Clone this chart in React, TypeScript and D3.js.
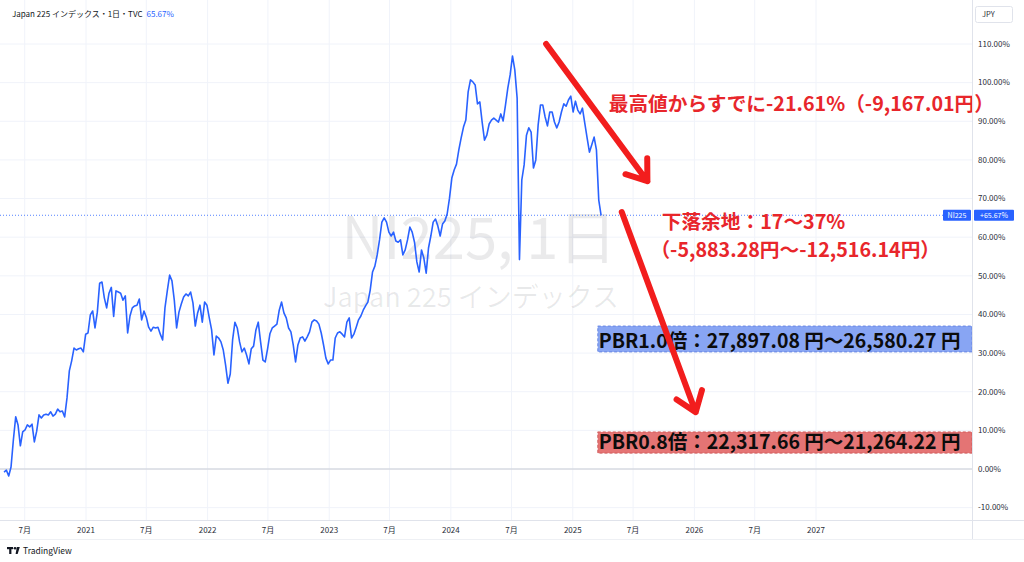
import * as d3 from "d3";

// weekly closes, % change from first bar
const startDate = "2020-04-30";
const weeklyPct = [
  -0.8, -0.3, -1.8, 0.5, 7.5, 13.5, 11.4, 6.0, 9.6, 10.1,
  11.4, 10.9, 11.6, 7.0, 9.8, 14.0, 13.2, 14.0, 14.2, 14.0,
  14.8, 13.7, 14.2, 15.5, 14.8, 15.0, 13.5, 18.4, 25.4, 28.0,
  31.3, 30.8, 31.1, 31.3, 30.3, 34.9, 35.2, 39.9, 40.9, 36.5,
  40.6, 48.1, 48.4, 44.3, 41.7, 45.5, 47.0, 39.5, 46.1, 45.8,
  45.5, 43.7, 44.8, 35.2, 39.6, 41.7, 42.2, 42.4, 44.0, 38.6,
  40.9, 39.3, 36.7, 35.7, 36.7, 36.5, 36.7, 34.9, 33.4, 41.7,
  46.1, 50.2, 48.7, 43.7, 36.5, 40.6, 42.7, 44.5, 45.3, 44.8,
  45.8, 43.0, 37.0, 40.4, 42.4, 38.0, 43.2, 42.4, 39.1, 36.0,
  29.5, 34.4, 33.9, 32.9, 30.8, 26.9, 22.2, 24.6, 33.4, 38.0,
  36.5, 32.9, 30.3, 31.3, 29.5, 27.2, 31.1, 31.8, 36.0, 38.0,
  32.9, 28.2, 27.7, 31.1, 35.0, 36.5, 37.0, 37.5, 41.1, 43.2,
  40.4, 39.1, 36.5, 35.5, 32.1, 27.7, 32.1, 33.9, 34.2, 33.1,
  34.2, 35.5, 38.0, 38.6, 38.3, 37.5, 35.2, 32.1, 28.7, 27.2,
  28.2, 28.2, 33.9, 35.2, 35.5, 34.9, 34.2, 38.0, 39.1, 33.9,
  34.9, 36.7, 38.6, 39.6, 41.1, 42.2, 43.2, 46.3, 51.0, 52.5,
  55.4, 59.3, 63.9, 65.0, 63.9, 61.3, 60.3, 61.3, 59.0, 58.7,
  59.3, 55.4, 56.7, 59.3, 62.6, 61.3, 58.7, 53.6, 51.0, 56.7,
  54.6, 50.7, 57.2, 60.3, 63.9, 64.7, 62.9, 60.3, 63.4, 64.2,
  66.0, 70.1, 75.3, 77.4, 78.9, 82.6, 85.7, 88.5, 90.3, 97.6,
  100.7, 100.2, 99.4, 94.5, 95.0, 89.8, 85.1, 86.4, 89.3, 90.3,
  90.8, 90.3, 89.8, 91.9, 90.1, 94.2, 98.6, 102.0, 106.9, 103.3,
  96.0, 54.2, 74.8, 78.7, 86.4, 88.3, 87.2, 77.9, 80.0, 89.0,
  94.2, 94.2, 91.1, 88.8, 92.4, 92.4, 89.8, 88.3, 89.8, 92.4,
  94.5, 93.9, 95.5, 96.5, 92.4, 95.2, 92.9, 91.9, 93.4, 89.5,
  85.7, 82.0, 83.9, 85.9, 82.6, 69.6, 65.67,
];
const lastPct = 65.67;

const yTicks = [-10, 0, 10, 20, 30, 40, 50, 60, 70, 80, 90, 100, 110];
const xTicks = [
  { date: "2020-07-01", label: "7月" },
  { date: "2021-01-01", label: "2021" },
  { date: "2021-07-01", label: "7月" },
  { date: "2022-01-01", label: "2022" },
  { date: "2022-07-01", label: "7月" },
  { date: "2023-01-01", label: "2023" },
  { date: "2023-07-01", label: "7月" },
  { date: "2024-01-01", label: "2024" },
  { date: "2024-07-01", label: "7月" },
  { date: "2025-01-01", label: "2025" },
  { date: "2025-07-01", label: "7月" },
  { date: "2026-01-01", label: "2026" },
  { date: "2026-07-01", label: "7月" },
  { date: "2027-01-01", label: "2027" },
];

// annotations, in chart units (date, %)
const arrows = [
  { from: ["2024-10-13", 110], to: ["2025-08-13", 74.5] },
  { from: ["2025-05-28", 66.5], to: ["2026-01-05", 14.7] },
];
const redNotes = [
  { text: "最高値からすでに-21.61%（-9,167.01円）", date: "2025-04-19", pct: 92.7 },
  { text: "下落余地：17〜37%", date: "2025-09-25", pct: 62.1 },
  { text: "（-5,883.28円〜-12,516.14円）", date: "2025-08-22", pct: 54.9 },
];
const pbrBands = [
  { text: "PBR1.0倍：27,897.08 円〜26,580.27 円", from: "2025-03-17", lo: 30.3, hi: 37.0, fill: "#88a5f3", stroke: "#5577e0" },
  { text: "PBR0.8倍：22,317.66 円〜21,264.22 円", from: "2025-03-17", lo: 4.1, hi: 9.6, fill: "#e47474", stroke: "#c94d4d" },
];

const W = 1024;
const H = 562;
const plotRight = 972;
const axisBottom = 520;
const FONT = "'Noto Sans CJK JP', 'Noto Sans', sans-serif";
const BLUE = "#2962ff";
const RED = "#f21d1d";

const parse = d3.timeParse("%Y-%m-%d");

export default function App() {
  const x = d3
    .scaleTime()
    .domain([parse("2021-01-01")!, parse("2027-01-01")!])
    .range([86, 816]);
  const y = d3.scaleLinear().domain([0, 110]).range([469, 44]);

  const start = parse(startDate)!;
  const series = weeklyPct.map((v, i) => ({ date: d3.timeDay.offset(start, i * 7), v }));

  const line = d3
    .line<{ date: Date; v: number }>()
    .x((d) => x(d.date))
    .y((d) => y(d.v));

  const arrowPaths = arrows.map((a) => {
    const x1 = x(parse(a.from[0] as string)!);
    const y1 = y(a.from[1] as number);
    const x2 = x(parse(a.to[0] as string)!);
    const y2 = y(a.to[1] as number);
    const ang = Math.atan2(y1 - y2, x1 - x2);
    const len = 23;
    const spread = (36 * Math.PI) / 180;
    const h1 = [x2 + len * Math.cos(ang - spread), y2 + len * Math.sin(ang - spread)];
    const h2 = [x2 + len * Math.cos(ang + spread), y2 + len * Math.sin(ang + spread)];
    return `M${x1},${y1}L${x2},${y2}M${h1[0]},${h1[1]}L${x2},${y2}L${h2[0]},${h2[1]}`;
  });

  const yLast = y(lastPct);

  return (
    <svg
      width={W}
      height={H}
      style={{ position: "absolute", left: 0, top: 0, background: "#fff" }}
      fontFamily={FONT}
    >
      <rect x={0} y={0} width={W} height={H} fill="#fff" />

      {/* grid */}
      {yTicks.map((t) => (
        <line key={"gy" + t} x1={0} x2={plotRight} y1={y(t)} y2={y(t)} stroke="#f0f3fa" />
      ))}
      {xTicks.map((t) => (
        <line
          key={"gx" + t.date}
          x1={x(parse(t.date)!)}
          x2={x(parse(t.date)!)}
          y1={0}
          y2={axisBottom}
          stroke="#f0f3fa"
        />
      ))}

      {/* watermark */}
      <text x={479} y={259} textAnchor="middle" fontSize={58} fill="#131722" fillOpacity={0.09}>
        NI225, 1日
      </text>
      <text x={471} y={307} textAnchor="middle" fontSize={27} fill="#131722" fillOpacity={0.09}>
        Japan 225 インデックス
      </text>

      {/* zero line */}
      <line x1={0} x2={plotRight} y1={y(0)} y2={y(0)} stroke="#c9ccd4" />

      {/* last value line */}
      <line
        x1={0}
        x2={plotRight}
        y1={yLast}
        y2={yLast}
        stroke={BLUE}
        strokeOpacity={0.8}
        strokeWidth={1}
        strokeDasharray="1,2"
      />

      {/* price */}
      <path d={line(series) ?? ""} fill="none" stroke={BLUE} strokeWidth={1.6} strokeLinejoin="round" />

      {/* PBR bands */}
      {pbrBands.map((b) => {
        const bx = x(parse(b.from)!);
        const top = y(b.hi);
        const bot = y(b.lo);
        return (
          <g key={b.text}>
            <rect
              x={bx}
              y={top}
              width={plotRight - bx}
              height={bot - top}
              fill={b.fill}
              stroke={b.stroke}
              strokeDasharray="3,2"
              strokeWidth={0.8}
            />
            <text x={bx + 1} y={bot - 4} fontSize={19.5} fontWeight={700} fill="#0c0c0c">
              {b.text}
            </text>
          </g>
        );
      })}

      {/* arrows */}
      {arrowPaths.map((d, i) => (
        <path key={"ar" + i} d={d} fill="none" stroke={RED} strokeWidth={6} strokeLinecap="round" strokeLinejoin="round" />
      ))}

      {/* red notes */}
      {redNotes.map((n) => (
        <text key={n.text} x={x(parse(n.date)!)} y={y(n.pct)} fontSize={19.7} fontWeight={700} fill="#e8262b">
          {n.text}
        </text>
      ))}

      {/* price axis */}
      <line x1={plotRight + 0.5} x2={plotRight + 0.5} y1={0} y2={539} stroke="#e0e3eb" />
      {yTicks.map((t) => (
        <text key={"ty" + t} x={978} y={y(t)} dy="0.35em" fontSize={8} fill="#2a2e39">
          {t.toFixed(2)}%
        </text>
      ))}
      <rect x={975.5} y={6.5} width={37} height={16} fill="#fff" stroke="#e0e3eb" rx={2} />
      <text x={982} y={14.5} dy="0.35em" fontSize={7.5} fill="#2a2e39">
        JPY
      </text>

      {/* last value labels */}
      <rect x={943} y={yLast - 5.5} width={28} height={11} fill={BLUE} rx={1} />
      <text x={957} y={yLast} dy="0.35em" textAnchor="middle" fontSize={7} fill="#fff">
        NI225
      </text>
      <rect x={974} y={yLast - 5.5} width={40} height={11} fill={BLUE} rx={1} />
      <text x={994} y={yLast} dy="0.35em" textAnchor="middle" fontSize={7} fill="#fff">
        +{lastPct.toFixed(2)}%
      </text>

      {/* time axis */}
      <line x1={0} x2={W} y1={axisBottom + 0.5} y2={axisBottom + 0.5} stroke="#e0e3eb" />
      <line x1={0} x2={W} y1={539.5} y2={539.5} stroke="#eef0f4" />
      {xTicks.map((t) => (
        <text
          key={"tx" + t.date}
          x={x(parse(t.date)!)}
          y={530}
          dy="0.35em"
          textAnchor="middle"
          fontSize={8}
          fill="#2a2e39"
        >
          {t.label}
        </text>
      ))}

      {/* header */}
      <text x={12} y={14} dy="0.35em" fontSize={8} fill="#131722">
        Japan 225 インデックス・1日・TVC
        <tspan dx={4} fill={BLUE}>
          {lastPct.toFixed(2)}%
        </tspan>
      </text>

      {/* TradingView mark */}
      <g fill="#131722">
        <rect x={7} y={547} width={6} height={2.2} />
        <rect x={9.2} y={547} width={2.2} height={7} />
        <circle cx={15} cy={548.2} r={1.3} />
        <path d="M16.8,547 L19.8,547 L17.6,554 L15.6,554 Z" />
      </g>
      <text x={23} y={551} dy="0.35em" fontSize={8.5} fill="#131722">
        TradingView
      </text>
    </svg>
  );
}
